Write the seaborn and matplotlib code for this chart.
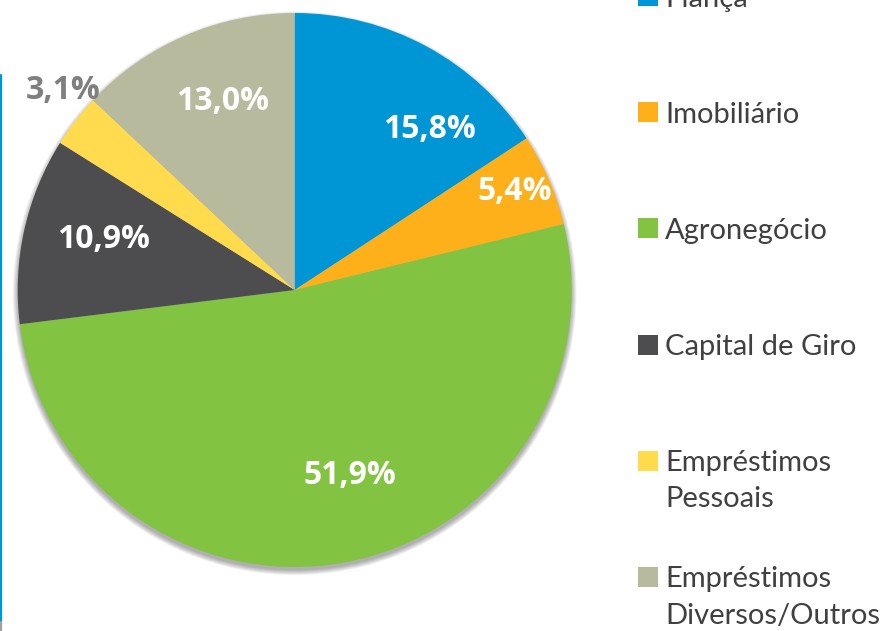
import matplotlib
matplotlib.use("Agg")
import matplotlib.pyplot as plt
import seaborn as sns
from matplotlib.patches import Rectangle, Circle
from matplotlib.lines import Line2D

sns.set_theme(style="white")
plt.rcParams['font.family'] = ['Open Sans', 'DejaVu Sans']

# ---- data ----
categories = ["Fiança", "Imobiliário", "Agronegócio", "Capital de Giro",
              "Empréstimos Pessoais", "Empréstimos Diversos/Outros"]
legend_labels = ["Fiança", "Imobiliário", "Agronegócio", "Capital de Giro",
                 "Empréstimos\nPessoais", "Empréstimos\nDiversos/Outros"]
values = [15.8, 5.4, 51.9, 10.9, 3.1, 13.0]
colors = sns.color_palette(["#0096D6", "#FDB01A", "#82C341", "#4D4D4F",
                            "#FFDB4D", "#B8BA9E"])

# label placement (data units, radius = 1) and colours
label_pos = [(0.488, 0.578), (0.795, 0.354), (0.20, -0.668),
             (-0.692, 0.181), (-0.836, 0.722), (-0.262, 0.682)]
label_colors = ["white", "white", "white", "white", "#7F7F7F", "white"]

W, H = 881, 631
fig = plt.figure(figsize=(W / 100, H / 100), dpi=100)
fig.patch.set_facecolor("white")

cx, cy, r = 294.7, 290.0, 277.0
ax = fig.add_axes([(cx - r) / W, (H - cy - r) / H, 2 * r / W, 2 * r / H])

# soft shadow under the pie
for i in range(8):
    ax.add_patch(Circle((0, -0.012), 1.0 + i * 0.0025, color="black",
                        alpha=0.045, lw=0, zorder=0, clip_on=False))

wedges, _ = ax.pie(values, colors=colors, startangle=90, counterclock=False,
                   radius=1, wedgeprops=dict(linewidth=0))
for w in wedges:
    w.set_zorder(2)
ax.set_xlim(-1, 1)
ax.set_ylim(-1, 1)
ax.set_aspect("equal")
ax.axis("off")

for v, (x, y), c in zip(values, label_pos, label_colors):
    ax.text(x, y, f"{v:.1f}%".replace(".", ","), ha="center", va="center",
            fontsize=23, fontweight="bold", color=c, zorder=5, clip_on=False)

# legend drawn manually
sq_x0, sq = 637.5, 20
y0, step = -4.0, 116.2
line_h = 36
for i, (lab, col) in enumerate(zip(legend_labels, colors)):
    yc = y0 + i * step
    fig.add_artist(Rectangle((sq_x0 / W, 1 - (yc + sq / 2) / H), sq / W, sq / H,
                             transform=fig.transFigure, facecolor=col,
                             edgecolor="none"))
    for k, line in enumerate(lab.split("\n")):
        fig.text(665 / W, 1 - (yc + 10.5 + k * line_h) / H, line,
                 ha="left", va="baseline", fontsize=21, color="#404040",
                 family=["Lato", "DejaVu Sans"])

# thin blue frame line on the left
fig.add_artist(Line2D([1 / W, 1 / W], [1 - 75 / H, 1 - 622 / H],
                      transform=fig.transFigure, color="#0096D6", lw=1.6))
fig.add_artist(Line2D([1 / W, 1 / W], [1 - 622 / H, 0],
                      transform=fig.transFigure, color="#A0A0A0", lw=1.6))

fig.savefig("out.png", dpi=100, facecolor="white")
